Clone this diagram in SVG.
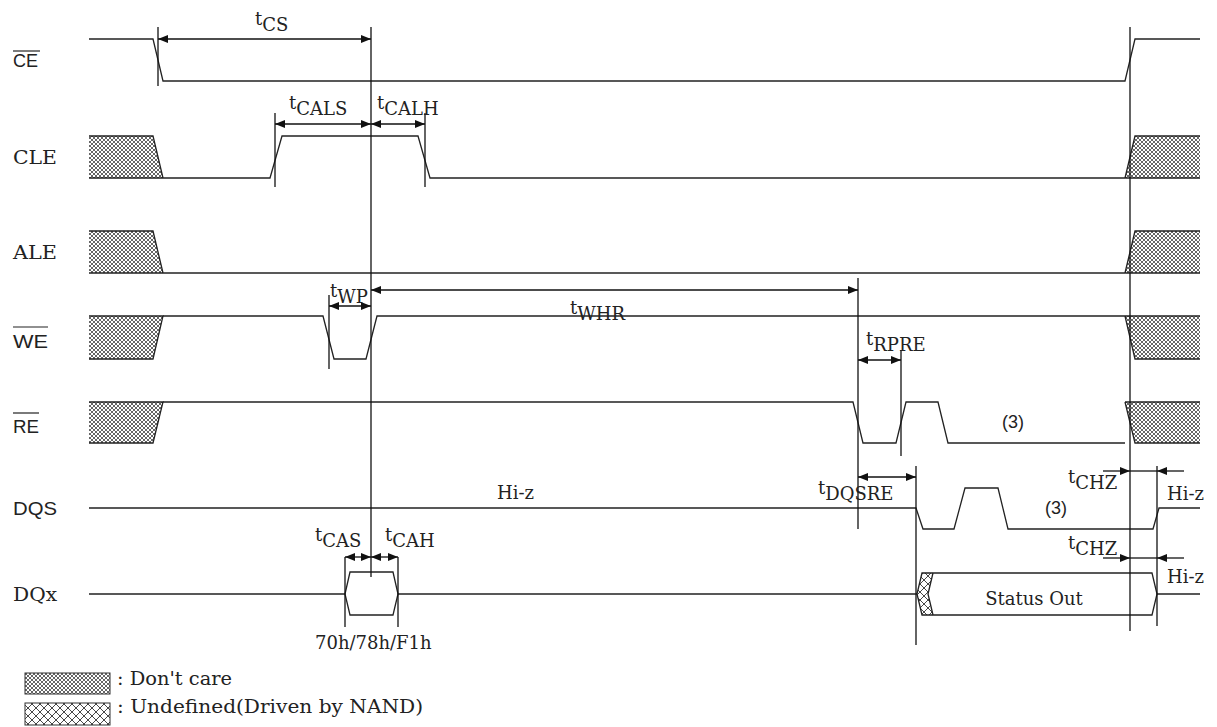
<svg xmlns="http://www.w3.org/2000/svg" width="1217" height="727" viewBox="0 0 1217 727">
<style>
.sig{fill:none;stroke:#222;stroke-width:1.3;stroke-linejoin:miter}
.ref{fill:none;stroke:#111;stroke-width:1.3}
.arr{fill:none;stroke:#111;stroke-width:1.3;marker-start:url(#ah);marker-end:url(#ah)}
.one{fill:none;stroke:#111;stroke-width:1.3;marker-end:url(#ah)}
.dc{fill:url(#pdc);stroke:#333;stroke-width:1}
.ud{fill:url(#pud);stroke:#333;stroke-width:1}
.serif{font-family:"DejaVu Serif","Liberation Serif",serif;font-size:18px;fill:#222}
.sans{font-family:"Liberation Sans",Arial,sans-serif;font-size:18px;fill:#222}
.ol{stroke:#222;stroke-width:1.2}
</style>
<defs>
<marker id="ah" viewBox="0 0 10 8" refX="10" refY="4" markerWidth="10" markerHeight="8" markerUnits="userSpaceOnUse" orient="auto-start-reverse">
<path d="M0,0 L10,4 L0,8 Z" fill="#111"/>
</marker>
<pattern id="pdc" width="4" height="4" patternUnits="userSpaceOnUse">
<rect width="4" height="4" fill="#fff"/>
<path d="M0,0 L4,4 M4,0 L0,4" stroke="#555" stroke-width="0.9"/>
</pattern>
<pattern id="pud" width="8" height="8" patternUnits="userSpaceOnUse">
<rect width="8" height="8" fill="#fff"/>
<path d="M0,0 L8,8 M8,0 L0,8" stroke="#333" stroke-width="0.9"/>
</pattern>
</defs>
<rect width="1217" height="727" fill="#fff"/>

<g id="CE">
<text class="sans" x="13" y="67">CE</text>
<line class="ol" x1="13" y1="51" x2="40" y2="51"/>
<path class="sig" d="M89,39 H153 L163,81 H1125 L1135,39 H1200"/>
</g>

<g id="CLE">
<text class="serif" x="13" y="164" textLength="44" lengthAdjust="spacingAndGlyphs">CLE</text>
<polygon points="89,136 153,136 163,178 89,178" fill="url(#pdc)"/>
<path class="sig" d="M89,136 H153 L163,178 M89,178 H163"/>
<path class="sig" d="M163,178 H270 L282,136 H418 L430,178 H1125"/>
<polygon points="1125,178 1135,136 1200,136 1200,178" fill="url(#pdc)"/>
<path class="sig" d="M1125,178 L1135,136 H1200 M1125,178 H1200"/>
</g>

<g id="ALE">
<text class="serif" x="13" y="259" textLength="44" lengthAdjust="spacingAndGlyphs">ALE</text>
<polygon points="89,231 153,231 163,273 89,273" fill="url(#pdc)"/>
<path class="sig" d="M89,231 H153 L163,273 M89,273 H163"/>
<path class="sig" d="M163,273 H1125"/>
<polygon points="1125,273 1135,231 1200,231 1200,273" fill="url(#pdc)"/>
<path class="sig" d="M1125,273 L1135,231 H1200 M1125,273 H1200"/>
</g>

<g id="WE">
<text class="sans" x="13" y="348" textLength="35" lengthAdjust="spacingAndGlyphs">WE</text>
<line class="ol" x1="13" y1="327" x2="48" y2="327"/>
<polygon points="89,316 163,316 153,359 89,359" fill="url(#pdc)"/>
<path class="sig" d="M89,316 H163 L153,359 H89"/>
<path class="sig" d="M163,316 H323 L334,359 H366 L377,316 H1125"/>
<polygon points="1125,316 1200,316 1200,359 1135,359" fill="url(#pdc)"/>
<path class="sig" d="M1125,316 L1135,359 H1200 M1125,316 H1200"/>
</g>

<g id="RE">
<text class="sans" x="13" y="433" textLength="26" lengthAdjust="spacingAndGlyphs">RE</text>
<line class="ol" x1="13" y1="413" x2="39" y2="413"/>
<polygon points="89,402 163,402 153,443 89,443" fill="url(#pdc)"/>
<path class="sig" d="M89,402 H163 L153,443 H89"/>
<path class="sig" d="M163,402 H853 L863,443 H896 L906,402 H938 L948,443 H1125"/>
<polygon points="1125,402 1200,402 1200,443 1135,443" fill="url(#pdc)"/>
<path class="sig" d="M1125,402 L1135,443 H1200 M1125,402 H1200"/>
<text class="sans" x="1002" y="428">(3)</text>
</g>

<g id="DQS">
<text class="sans" x="13" y="515" textLength="44" lengthAdjust="spacingAndGlyphs">DQS</text>
<path class="sig" d="M89,508 H916 L923,529 H954 L965,488 H998 L1008,529 H1153 L1159,508 H1200"/>
<text class="serif" x="497" y="499">Hi-z</text>
<text class="sans" x="1045" y="514">(3)</text>
<text class="serif" x="1167" y="500">Hi-z</text>
</g>

<g id="DQx">
<text class="serif" x="13" y="601" textLength="44" lengthAdjust="spacingAndGlyphs">DQx</text>
<path class="sig" d="M89,594 H345 M398,594 H917 M1157,594 H1200"/>
<path class="sig" d="M345,594 L350,572 H393 L398,594 L393,615 H350 Z"/>
<text class="serif" x="315" y="649">70h/78h/F1h</text>
<polygon points="917,594 922,573 933,573 928,594 933,615 922,615" fill="url(#pud)"/>
<path class="sig" d="M917,594 L922,573 H1152 L1157,594 L1152,615 H922 Z"/>
<path class="sig" d="M933,573 L928,594 L933,615"/>
<text class="serif" x="1034" y="605" text-anchor="middle">Status Out</text>
<text class="serif" x="1167" y="583">Hi-z</text>
</g>

<g id="connectors">
<line class="ref" x1="371" y1="27" x2="371" y2="577"/>
<line class="ref" x1="1130" y1="27" x2="1130" y2="631"/>
<line class="ref" x1="858" y1="278" x2="858" y2="529"/>
<line class="ref" x1="916" y1="466" x2="916" y2="645"/>
<line class="ref" x1="1157" y1="466" x2="1157" y2="626"/>
<line class="ref" x1="901" y1="350" x2="901" y2="456"/>
<line class="ref" x1="158" y1="27" x2="158" y2="86"/>
<line class="ref" x1="275" y1="113" x2="275" y2="187"/>
<line class="ref" x1="425" y1="113" x2="425" y2="187"/>
<line class="ref" x1="329" y1="295" x2="329" y2="369"/>
<line class="ref" x1="345" y1="557" x2="345" y2="627"/>
<line class="ref" x1="398" y1="557" x2="398" y2="627"/>

<path class="arr" d="M158,39 H371"/>
<path class="arr" d="M275,124 H371"/>
<path class="arr" d="M371,124 H425"/>
<path class="arr" d="M329,306 H371"/>
<path class="arr" d="M371,290 H858"/>
<path class="arr" d="M858,360 H901"/>
<path class="arr" d="M858,477 H916"/>
<path class="arr" d="M345,557 H371"/>
<path class="arr" d="M371,557 H398"/>
<path class="one" d="M1103,471 H1130"/>
<path class="ref" d="M1130,471 H1157"/>
<path class="one" d="M1184,471 H1157"/>
<path class="one" d="M1103,558 H1130"/>
<path class="ref" d="M1130,558 H1157"/>
<path class="one" d="M1184,558 H1157"/>

<text class="serif" x="255" y="25">t<tspan dy="6">CS</tspan></text>
<text class="serif" x="289" y="109">t<tspan dy="6">CALS</tspan></text>
<text class="serif" x="377" y="109">t<tspan dy="6">CALH</tspan></text>
<text class="serif" x="330" y="297">t<tspan dy="6">WP</tspan></text>
<text class="serif" x="570" y="314">t<tspan dy="6">WHR</tspan></text>
<text class="serif" x="866" y="345">t<tspan dy="6">RPRE</tspan></text>
<text class="serif" x="818" y="494">t<tspan dy="6">DQSRE</tspan></text>
<text class="serif" x="1068" y="483">t<tspan dy="6">CHZ</tspan></text>
<text class="serif" x="1068" y="549">t<tspan dy="6">CHZ</tspan></text>
<text class="serif" x="315" y="541">t<tspan dy="6">CAS</tspan></text>
<text class="serif" x="385" y="541">t<tspan dy="6">CAH</tspan></text>
</g>

<g id="legend">
<rect class="dc" x="25" y="673" width="85" height="21"/>
<rect class="ud" x="25" y="703" width="85" height="22"/>
<text class="serif" x="117" y="685" textLength="115" lengthAdjust="spacingAndGlyphs">: Don't care</text>
<text class="serif" x="117" y="713" textLength="306" lengthAdjust="spacingAndGlyphs">: Undefined(Driven by NAND)</text>
</g>
</svg>
